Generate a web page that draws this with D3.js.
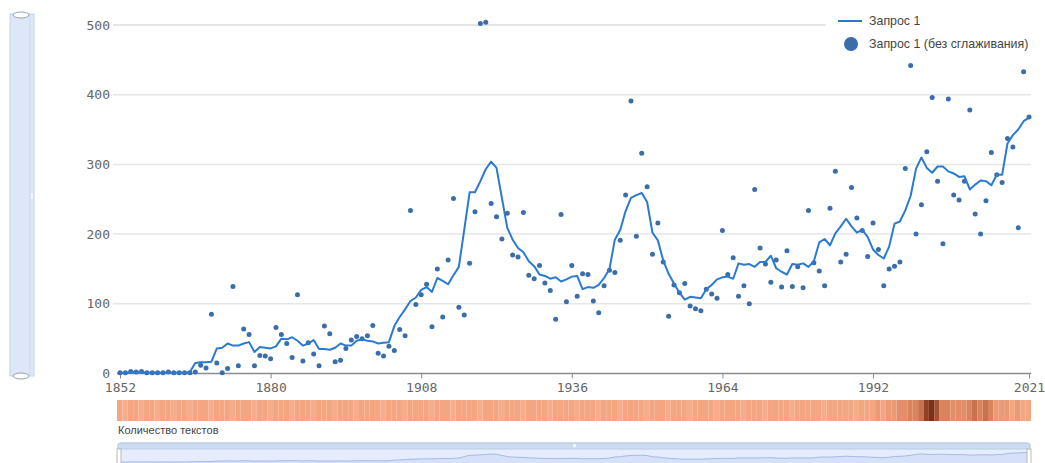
<!DOCTYPE html>
<html lang="ru">
<head>
<meta charset="utf-8">
<title>Запрос 1</title>
<script src="https://cdn.jsdelivr.net/npm/d3@7"></script>
<style>
  html, body { margin: 0; padding: 0; background: #fff; }
  svg { display: block; }
  .axis text { font-family: "DejaVu Sans Mono", monospace; font-size: 13px; fill: #666; }
  .legend text, .heat-label { font-family: "Liberation Sans", Arial, sans-serif; fill: #444; }
</style>
</head>
<body>
<svg id="chart" width="1045" height="463"></svg>
<script>
// годы 1852–2021, по одному значению на год
const startYear = 1852;

// сырые значения (точки)
const rawValues = [
  1, 1, 3, 2, 3, 1, 1, 1, 1, 2,
  1, 1, 1, 1, 2, 12, 8, 85, 15, 1,
  7, 125, 11, 64, 56, 11, 26, 25, 21, 66,
  56, 43, 23, 113, 18, 44, 28, 11, 68, 57,
  17, 19, 36, 48, 53, 50, 54, 69, 29, 25,
  39, 33, 63, 54, 234, 99, 113, 128, 67, 150,
  81, 163, 251, 95, 84, 158, 232, 502, 504, 244,
  225, 193, 230, 170, 167, 231, 141, 136, 155, 130,
  119, 78, 228, 103, 155, 111, 143, 142, 104, 87,
  126, 148, 145, 191, 256, 391, 197, 316, 268, 171,
  216, 160, 82, 127, 116, 129, 97, 93, 90, 121,
  114, 108, 205, 142, 166, 111, 126, 100, 264, 180,
  157, 131, 163, 124, 176, 125, 153, 123, 234, 159,
  147, 126, 237, 290, 160, 171, 267, 223, 205, 168,
  216, 178, 126, 150, 154, 160, 294, 442, 200, 242,
  318, 396, 276, 186, 394, 256, 249, 276, 378, 229,
  200, 248, 317, 285, 274, 337, 325, 209, 433, 368
];

// сглаженная линия
const smoothValues = [
  1, 1, 2, 2, 2, 1, 1, 1, 1, 1,
  1, 1, 1, 2, 15, 16, 16, 17, 36, 37,
  43, 40, 40, 43, 45, 31, 38, 37, 36, 39,
  50, 49, 52, 47, 40, 43, 48, 35, 35, 34,
  37, 43, 40, 40, 47, 49, 47, 46, 43, 44,
  45, 68, 81, 92, 104, 109, 120, 124, 117, 137,
  133, 128, 141, 153, 206, 260, 260, 276, 293, 304,
  295, 252, 209, 192, 180, 174, 161, 154, 142, 140,
  136, 138, 132, 135, 139, 140, 121, 124, 123, 127,
  137, 150, 192, 206, 233, 252, 256, 259, 246, 202,
  191, 162, 143, 129, 116, 106, 110, 109, 108, 121,
  127, 135, 138, 139, 136, 158, 156, 157, 153, 160,
  160, 169, 151, 146, 142, 157, 156, 158, 153, 161,
  188, 193, 184, 201, 211, 222, 211, 202, 206, 196,
  178, 170, 165, 182, 215, 218, 234, 255, 294, 310,
  295, 288, 297, 297, 290, 287, 282, 283, 264, 271,
  277, 276, 270, 285, 285, 330, 342, 350, 362, 367
];

// количество текстов (тепловая полоса), условные единицы
const textCounts = [
  3, 2, 3, 3, 2, 3, 3, 2, 3, 3,
  2, 3, 3, 2, 3, 3, 3, 2, 3, 3,
  3, 2, 3, 3, 3, 2, 3, 3, 2, 3,
  3, 3, 2, 3, 3, 3, 2, 3, 3, 3,
  2, 3, 3, 3, 2, 3, 3, 3, 3, 2,
  3, 3, 3, 2, 3, 3, 3, 3, 2, 3,
  3, 3, 2, 3, 3, 3, 3, 2, 3, 3,
  3, 2, 3, 3, 3, 2, 3, 3, 3, 3,
  2, 3, 3, 3, 3, 2, 3, 3, 3, 2,
  3, 3, 3, 2, 3, 3, 3, 3, 2, 3,
  3, 3, 2, 3, 3, 3, 2, 3, 3, 3,
  3, 2, 3, 3, 3, 3, 2, 3, 3, 3,
  2, 3, 3, 3, 3, 2, 3, 3, 3, 3,
  3, 2, 3, 3, 3, 3, 3, 2, 3, 3,
  3, 4, 3, 4, 4, 5, 5, 6, 6, 7,
  10, 11, 9, 6, 6, 5, 5, 5, 6, 7,
  6, 7, 6, 4, 4, 4, 3, 4, 3, 3
];

const xTickYears = [1852, 1880, 1908, 1936, 1964, 1992, 2021];
const yTicks = [0, 100, 200, 300, 400, 500];
const seriesNames = ["Запрос 1", "Запрос 1 (без сглаживания)"];
const heatLabel = "Количество текстов";

const years = rawValues.map((d, i) => startYear + i);
const rows = years.map((year, i) => ({ year, raw: rawValues[i], smooth: smoothValues[i], count: textCounts[i] }));

const svg = d3.select("#chart");

const x = d3.scaleLinear().domain([1852, 2021]).range([120, 1029]);
const y = d3.scaleLinear().domain([0, 500]).range([373.5, 25]);

// левый вертикальный ползунок
const vs = svg.append("g");
vs.append("rect")
  .attr("x", 10).attr("y", 14).attr("width", 24).attr("height", 362)
  .attr("fill", "#dde7f7").attr("stroke", "#c2d3ec");
vs.append("line")
  .attr("x1", 30).attr("x2", 30).attr("y1", 15).attr("y2", 375)
  .attr("stroke", "#c9d9f0");
vs.append("rect")
  .attr("x", 31).attr("y", 193).attr("width", 2).attr("height", 6)
  .attr("fill", "#f4f8fd");
[15, 376].forEach(cy => {
  vs.append("ellipse")
    .attr("cx", 21).attr("cy", cy).attr("rx", 8).attr("ry", 3)
    .attr("fill", "#fff").attr("stroke", "#9aa3ad");
});

// сетка
svg.append("g")
  .selectAll("line")
  .data(yTicks.filter(d => d > 0))
  .join("line")
  .attr("x1", 113).attr("x2", 1031)
  .attr("y1", d => y(d)).attr("y2", d => y(d))
  .attr("stroke", "#e6e6e6")
  .attr("stroke-width", d => d === 500 ? 2 : 1.5);

// оси
const yAxis = svg.append("g")
  .attr("class", "axis")
  .attr("transform", "translate(113,0)")
  .call(d3.axisLeft(y).tickValues(yTicks).tickSize(0).tickPadding(3));
yAxis.select(".domain").remove();

const xAxis = svg.append("g")
  .attr("class", "axis")
  .attr("transform", `translate(0,${y(0)})`)
  .call(d3.axisBottom(x).tickValues(xTickYears).tickFormat(d3.format("d")).tickSize(5).tickSizeOuter(0).tickPadding(4));
xAxis.select(".domain").attr("stroke", "#8c8c8c").attr("stroke-width", 1.5)
  .attr("d", `M117,0H1031`);
xAxis.selectAll(".tick line").attr("stroke", "#8c8c8c");

// точки без сглаживания
svg.append("g")
  .selectAll("circle")
  .data(rows)
  .join("circle")
  .attr("cx", d => x(d.year))
  .attr("cy", d => y(d.raw))
  .attr("r", 2.5)
  .attr("fill", "#3b6ea9");

// сглаженная линия
svg.append("path")
  .datum(rows)
  .attr("fill", "none")
  .attr("stroke", "#2a7ad3")
  .attr("stroke-width", 2)
  .attr("stroke-linejoin", "round")
  .attr("d", d3.line().x(d => x(d.year)).y(d => y(d.smooth)));

// легенда
const legend = svg.append("g").attr("class", "legend");
legend.append("rect")
  .attr("x", 826).attr("y", 7).attr("width", 216).attr("height", 50)
  .attr("fill", "#fff");
legend.append("line")
  .attr("x1", 838).attr("x2", 862).attr("y1", 21).attr("y2", 21)
  .attr("stroke", "#2a7ad3").attr("stroke-width", 2);
legend.append("circle")
  .attr("cx", 851).attr("cy", 44).attr("r", 7)
  .attr("fill", "#3b6ea9");
legend.selectAll("text")
  .data(seriesNames)
  .join("text")
  .attr("x", 869)
  .attr("y", (d, i) => 25 + i * 23)
  .attr("font-size", 12.4)
  .text(d => d);

// тепловая полоса "Количество текстов"
const band = d3.scaleBand().domain(years).range([117, 1031]).padding(0);
const heatColor = d3.scaleLinear()
  .domain([2, 3, 6, 11])
  .range(["#f5ad8c", "#f3a682", "#d9845c", "#7a3316"]);

svg.append("g")
  .selectAll("rect")
  .data(rows)
  .join("rect")
  .attr("x", d => band(d.year))
  .attr("y", 400)
  .attr("width", band.bandwidth())
  .attr("height", 21)
  .attr("fill", d => heatColor(d.count));

svg.append("text")
  .attr("class", "heat-label")
  .attr("x", 118).attr("y", 434)
  .attr("font-size", 11)
  .text(heatLabel);

// навигатор внизу
const nav = svg.append("g");
nav.append("rect")
  .attr("x", 118).attr("y", 443).attr("width", 912).attr("height", 40).attr("rx", 3)
  .attr("fill", "#e5ecfb").attr("stroke", "#b9cce9");
nav.append("rect")
  .attr("x", 118).attr("y", 443).attr("width", 912).attr("height", 6).attr("rx", 2)
  .attr("fill", "#cddbf1").attr("stroke", "#b9cce9");
nav.append("rect")
  .attr("x", 573).attr("y", 444).attr("width", 3).attr("height", 3)
  .attr("fill", "#f5f8fd");

const yMini = d3.scaleLinear().domain([0, 500]).range([462, 449]);
nav.append("path")
  .datum(rows)
  .attr("fill", "#d6e1f7")
  .attr("d", d3.area().x(d => x(d.year)).y0(483).y1(d => yMini(d.smooth)));
nav.append("path")
  .datum(rows)
  .attr("fill", "none")
  .attr("stroke", "#a3baea")
  .attr("stroke-width", 1)
  .attr("d", d3.line().x(d => x(d.year)).y(d => yMini(d.smooth)));
[117, 1027].forEach(hx => {
  nav.append("rect")
    .attr("x", hx).attr("y", 449).attr("width", 4).attr("height", 30)
    .attr("fill", "#fff").attr("stroke", "#b5b9c0");
});
</script>
</body>
</html>
